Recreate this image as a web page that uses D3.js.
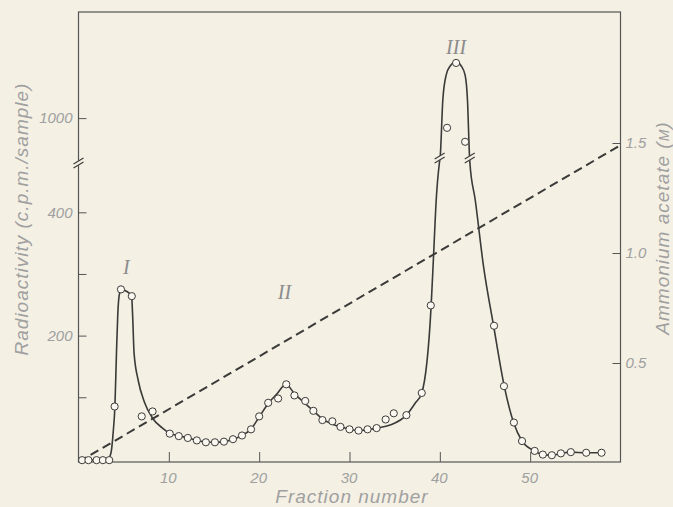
<!DOCTYPE html>
<html>
<head>
<meta charset="utf-8">
<script src="https://cdn.jsdelivr.net/npm/d3@7"></script>
<style>
  html, body { margin: 0; padding: 0; background: #f4f0e4; }
  svg { display: block; }
  .lbl { font-family: "Liberation Sans", Arial, sans-serif; font-style: italic; fill: #a0a0a0; }
  .roman { font-family: "Liberation Serif", "DejaVu Serif", serif; font-style: italic; fill: #8c8c8c; }
</style>
</head>
<body>
<svg id="chart" width="673" height="507"></svg>
<script>
// measured fractions (open circles)
const fractions = [0.4, 1.1, 2.0, 2.7, 3.4, 4.0, 4.7, 5.9, 7.0, 8.2,
  10.1, 11.1, 12.1, 13.1, 14.1, 15.1, 16.1, 17.1, 18.1, 19.1,
  20.0, 21.0, 22.1, 23.0, 23.9, 25.1, 26.0, 27.0, 28.1, 29.0,
  30.0, 31.0, 32.0, 33.0, 34.0, 34.9, 36.3, 38.0, 39.0,
  40.8, 41.8, 42.8, 46.0, 47.1, 48.2, 49.1, 50.5, 51.4, 52.4,
  53.4, 54.5, 56.2, 57.9];
const counts = [-2, -2, -2, -2, -2, 85, 275, 264, 69, 77,
  41, 37, 34, 30, 27, 27, 28, 32, 38, 48,
  69, 91, 98, 121, 103, 94, 78, 63, 61, 52,
  48, 46, 48, 50, 64, 74, 71, 107, 249,
  984, 1091, 961, 216, 118, 59, 29, 13, 7, 6,
  9, 11, 10, 10];

// hand-drawn smooth curve through the peaks
const curveFrac = [0, 3.2, 3.6, 3.85, 4.03, 4.2, 4.35, 4.5, 4.74, 5.3, 5.88, 6.0, 6.15, 6.6, 7.3, 8.2, 9.3,
  10.1, 11.1, 12.1, 13.1, 14.1, 15.1, 16.1, 17.1, 18.1, 19.1, 20.0, 21.0, 22.0, 22.96, 23.9,
  25.0, 26.0, 27.0, 28.0, 29.0, 30.0, 31.0, 32.0, 33.0, 34.5, 36.3, 37.3, 38.0, 39.04, 39.3, 39.6, 39.95,
  40.04, 40.33, 40.7, 41.15, 41.8, 42.37, 42.8, 43.06, 43.29,
  43.33, 43.92, 44.84, 45.95, 47.13, 48.16, 49.1, 50.46, 51.42, 52.42, 53.42, 54.45, 56.22, 57.89];
const curveCounts = [-2, -2, 10, 45, 85, 170, 235, 265, 275, 272, 264, 230, 172, 128, 92, 66, 50,
  41.5, 37.5, 34, 30, 27.5, 27, 28, 32, 38, 48.5, 68, 90, 106, 121, 106,
  91, 78, 65, 57, 52, 48, 46, 47.5, 50, 55, 71, 91, 107, 249, 328, 420, 480,
  936, 1030, 1071, 1086, 1093, 1086, 1071, 1030, 936,
  480, 420, 312, 216, 118, 59, 29, 13, 7, 6, 9, 11, 10, 10];

// ammonium acetate gradient (dashed)
const gradFrac = [0, 60];
const gradConc = [0.05, 1.49];

const xTicks = [10, 20, 30, 40, 50];
const leftTicks = [100, 200, 300, 400, 1000];
const leftTickLabels = ["", "200", "", "400", "1000"];
const rightTicks = [0.5, 1.0, 1.5];
const rightTickLabels = ["0.5", "1.0", "1.5"];

const peakNames = ["I", "II", "III"];
const peakFrac = [5.3, 22.8, 41.8];
const peakCounts = [311, 270, 1117];

const svg = d3.select("#chart");
const INK = "#3a3a38";
const PAPER = "#f4f0e4";

const x = d3.scaleLinear().domain([0, 60]).range([78.5, 620.5]);
// broken axis: lower part up to 480, upper part from 926
const y = d3.scaleLinear().domain([-5, 480, 926, 1175]).range([462, 163, 163, 12]);
const yR = d3.scaleLinear().domain([0, 1.5]).range([473, 143]);

const plotTop = 12, plotBottom = 462;
const plotLeft = x.range()[0], plotRight = x.range()[1];

// frame
svg.append("rect")
  .attr("x", plotLeft).attr("y", plotTop)
  .attr("width", plotRight - plotLeft).attr("height", plotBottom - plotTop)
  .attr("fill", "none").attr("stroke", "#555").attr("stroke-width", 1.2);

// axes
const xAxis = svg.append("g")
  .attr("transform", `translate(0,${plotBottom})`)
  .call(d3.axisBottom(x).tickValues(xTicks).tickSizeInner(-10).tickSizeOuter(0).tickPadding(10));
const yAxis = svg.append("g")
  .attr("transform", `translate(${plotLeft},0)`)
  .call(d3.axisLeft(y).tickValues(leftTicks).tickSizeInner(-8).tickSizeOuter(0).tickPadding(6)
    .tickFormat((d, i) => leftTickLabels[i]));
const rAxis = svg.append("g")
  .attr("transform", `translate(${plotRight},0)`)
  .call(d3.axisRight(yR).tickValues(rightTicks).tickSizeInner(-8).tickSizeOuter(0).tickPadding(5)
    .tickFormat((d, i) => rightTickLabels[i]));

[xAxis, yAxis, rAxis].forEach(g => {
  g.select(".domain").remove();
  g.selectAll(".tick line").attr("stroke", "#555").attr("stroke-width", 1);
  g.selectAll(".tick text").attr("class", "lbl").attr("font-size", 15)
    .attr("fill", "#a0a0a0").style("font-family", '"Liberation Sans", Arial, sans-serif')
    .style("font-style", "italic");
});
xAxis.selectAll(".tick text").attr("dx", -1);

// gradient line
const grad = gradFrac.map((f, i) => [f, gradConc[i]]);
svg.append("path")
  .datum(grad)
  .attr("d", d3.line().x(d => x(d[0])).y(d => yR(d[1])))
  .attr("fill", "none").attr("stroke", INK).attr("stroke-width", 2)
  .attr("stroke-dasharray", "9,5");

// elution curve
const curve = curveFrac.map((f, i) => [f, curveCounts[i]]);
svg.append("path")
  .datum(curve)
  .attr("d", d3.line().x(d => x(d[0])).y(d => y(d[1])).curve(d3.curveMonotoneX))
  .attr("fill", "none").attr("stroke", INK).attr("stroke-width", 1.6);

// break marks on the axis and on the curve
function breakMark(cx, cy) {
  svg.append("line")
    .attr("x1", cx - 5).attr("y1", cy + 3).attr("x2", cx + 5).attr("y2", cy - 3)
    .attr("stroke", PAPER).attr("stroke-width", 4);
  [-2, 2].forEach(o => {
    svg.append("line")
      .attr("x1", cx - 5).attr("y1", cy + 3 + o).attr("x2", cx + 5).attr("y2", cy - 3 + o)
      .attr("stroke", INK).attr("stroke-width", 1.1);
  });
}
breakMark(plotLeft, y(480));
breakMark(x(39.98), 158);
breakMark(x(43.31), 158);

// data points
const pts = fractions.map((f, i) => [f, counts[i]]);
svg.append("g").selectAll("circle")
  .data(pts)
  .join("circle")
  .attr("cx", d => x(d[0])).attr("cy", d => y(d[1]))
  .attr("r", 3.6)
  .attr("fill", "#faf8f0").attr("stroke", INK).attr("stroke-width", 1);

// peak labels
svg.append("g").selectAll("text")
  .data(peakNames)
  .join("text")
  .attr("class", "roman")
  .attr("x", (d, i) => x(peakFrac[i]))
  .attr("y", (d, i) => y(peakCounts[i]))
  .attr("text-anchor", "middle").attr("dominant-baseline", "central")
  .attr("font-size", 20)
  .text(d => d);

// axis titles
svg.append("text")
  .attr("class", "lbl")
  .attr("transform", `translate(28,${(85 + 353) / 2}) rotate(-90)`)
  .attr("text-anchor", "middle").attr("font-size", 19).attr("letter-spacing", 1)
  .text("Radioactivity (c.p.m./sample)");

const rt = svg.append("text")
  .attr("class", "lbl")
  .attr("transform", `translate(669,228) rotate(-90)`)
  .attr("text-anchor", "middle").attr("font-size", 19).attr("letter-spacing", 1);
rt.append("tspan").text("Ammonium acetate (");
rt.append("tspan").attr("font-size", 14).text("M");
rt.append("tspan").text(")");

svg.append("text")
  .attr("class", "lbl")
  .attr("x", 352).attr("y", 503)
  .attr("text-anchor", "middle").attr("font-size", 19).attr("letter-spacing", 1)
  .text("Fraction number");
</script>
</body>
</html>
